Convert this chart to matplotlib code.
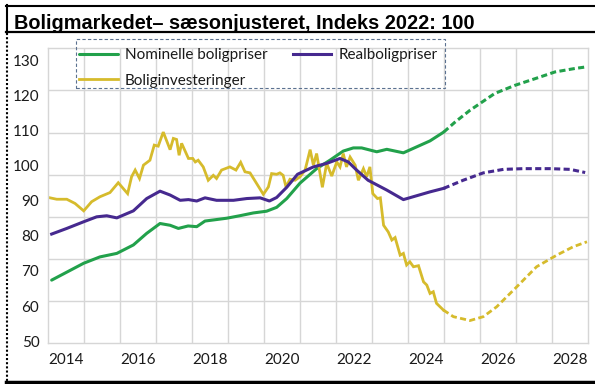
import matplotlib
matplotlib.use('Agg')
import matplotlib.pyplot as plt
import numpy as np
from matplotlib.lines import Line2D
from matplotlib.patches import Rectangle

# Nominelle boligpriser (faktisk)
nom_x = [2014.11, 2015.0, 2015.45, 2015.92, 2016.38, 2016.75, 2017.12, 2017.4, 2017.63, 2017.9,
         2018.14, 2018.37, 2018.97, 2019.33, 2019.71, 2020.08, 2020.36, 2020.64, 2021.01, 2021.47,
         2021.84, 2022.21, 2022.49, 2022.72, 2023.14, 2023.42, 2023.88, 2024.25, 2024.62, 2025.0]
nom_y = [67.4, 72.2, 74.0, 75.0, 77.4, 80.7, 83.5, 83.0, 82.1, 82.8,
         82.6, 84.2, 85.0, 85.7, 86.5, 87.0, 88.1, 90.6, 95.0, 99.1,
         101.5, 104.1, 105.0, 105.0, 103.9, 104.6, 103.6, 105.3, 107.0, 109.5]
# Nominelle boligpriser (prognose)
nom_fx = [2025.0, 2025.31, 2025.73, 2026.42, 2026.98, 2027.54, 2028.09, 2028.65, 2028.93]
nom_fy = [109.5, 112.3, 115.7, 120.5, 122.8, 124.7, 126.6, 127.6, 128.0]

# Realboligpriser
real_x = [2014.11, 2014.53, 2015.0, 2015.36, 2015.64, 2015.92, 2016.38, 2016.75, 2017.12, 2017.4,
          2017.68, 2017.91, 2018.14, 2018.37, 2018.69, 2019.16, 2019.53, 2019.9, 2020.16, 2020.36,
          2020.64, 2020.94, 2021.38, 2021.75, 2022.12, 2022.35, 2022.58, 2022.9, 2023.42, 2023.88,
          2024.25, 2024.62, 2025.0]
real_y = [80.5, 82.1, 84.0, 85.4, 85.7, 85.1, 87.1, 90.6, 92.7, 91.6,
          90.1, 90.3, 89.9, 90.8, 90.1, 90.1, 90.6, 90.8, 89.9, 90.9,
          93.8, 97.5, 99.6, 100.6, 102.0, 101.0, 98.7, 95.8, 93.0, 90.3,
          91.4, 92.5, 93.5]
real_fx = [2025.0, 2025.54, 2026.1, 2026.66, 2027.21, 2027.95, 2028.51, 2028.93]
real_fy = [93.5, 95.8, 97.9, 98.9, 99.1, 99.1, 98.9, 98.0]

# Boliginvesteringer
inv_x = [2014.02, 2014.25, 2014.53, 2014.76, 2015.0, 2015.22, 2015.45, 2015.73, 2015.96, 2016.22,
         2016.33, 2016.43, 2016.55, 2016.66, 2016.84, 2016.96, 2017.07, 2017.21, 2017.4, 2017.49,
         2017.58, 2017.65, 2017.72, 2017.91, 2018.03, 2018.1, 2018.18, 2018.32, 2018.46, 2018.6,
         2018.69, 2018.83, 2019.06, 2019.23, 2019.36, 2019.48, 2019.62, 2019.99, 2020.13, 2020.22,
         2020.36, 2020.45, 2020.54, 2020.62, 2020.73, 2020.87, 2021.01, 2021.15, 2021.29, 2021.38,
         2021.47, 2021.63, 2021.75, 2021.89, 2022.03, 2022.12, 2022.21, 2022.3, 2022.4, 2022.54,
         2022.63, 2022.77, 2022.86, 2022.95, 2023.03, 2023.16, 2023.24, 2023.33, 2023.46, 2023.56,
         2023.65, 2023.79, 2023.88, 2023.97, 2024.06, 2024.16, 2024.3, 2024.44, 2024.53, 2024.62,
         2024.71, 2024.8, 2024.99]
inv_y = [90.9, 90.4, 90.4, 89.2, 87.1, 89.7, 91.1, 92.3, 95.1, 92.0,
         96.8, 98.7, 96.3, 100.1, 101.5, 105.8, 105.5, 109.5, 104.5, 107.7,
         107.4, 102.9, 106.3, 102.0, 102.0, 101.0, 101.5, 99.6, 95.8, 97.2,
         96.3, 98.7, 99.6, 98.7, 100.9, 98.2, 97.9, 91.8, 93.9, 97.7,
         97.5, 97.9, 97.2, 93.9, 96.1, 95.8, 96.8, 98.7, 104.5, 100.1,
         103.4, 93.8, 100.6, 97.0, 101.0, 99.6, 103.4, 99.6, 102.4, 100.1,
         95.8, 99.1, 96.8, 99.6, 92.0, 90.6, 90.8, 83.0, 81.1, 78.8,
         79.5, 74.5, 75.0, 71.7, 72.6, 71.2, 71.5, 66.9, 66.0, 63.6,
         64.1, 60.8, 58.9]
inv_fx = [2024.99, 2025.27, 2025.73, 2026.1, 2026.47, 2027.03, 2027.58, 2028.14, 2028.6, 2028.98]
inv_fy = [58.9, 57.0, 55.9, 57.0, 59.8, 65.5, 71.2, 74.5, 76.9, 78.3]

year_labels = ['2014', '2016', '2018', '2020', '2022', '2024', '2026', '2028']
y_labels = [50, 60, 70, 80, 90, 100, 110, 120, 130]

GREEN = '#22a14b'
PURPLE = '#46298f'
YELLOW = '#d6bb2c'
GRID = '#d6d6d6'
W, H = 595, 384

fig = plt.figure(figsize=(W / 100, H / 100), dpi=100)
ax = fig.add_axes([47.7 / W, 1 - 343.3 / H, 540 / W, 295 / H])

ax.plot(nom_x, nom_y, color=GREEN, lw=2.2, label='Nominelle boligpriser', solid_capstyle='round')
ax.plot(nom_fx, nom_fy, color=GREEN, lw=2.2, ls=(0, (2, 1.1)), label='_nolegend_')
ax.plot(inv_x, inv_y, color=YELLOW, lw=2.0, label='Boliginvesteringer', solid_joinstyle='miter')
ax.plot(inv_fx, inv_fy, color=YELLOW, lw=2.0, ls=(0, (2.2, 1.2)), label='_nolegend_')
ax.plot(real_x, real_y, color=PURPLE, lw=2.2, label='Realboligpriser')
ax.plot(real_fx, real_fy, color=PURPLE, lw=2.2, ls=(0, (2, 1.1)), label='_nolegend_')

ylo, yhi = 49.43, 133.33
ax.set_xlim(2014, 2029)
ax.set_ylim(ylo, yhi)
ax.set_xticks([int(s) + 0.5 for s in year_labels])
ax.set_xticklabels(year_labels)
ax.set_xticks(np.arange(2015, 2029), minor=True)
ax.set_yticks(y_labels)
ax.set_yticks(np.linspace(ylo, yhi, 8)[1:-1], minor=True)
ax.grid(which='minor', color=GRID, lw=1.0)
ax.grid(which='major', visible=False)
ax.set_axisbelow(True)
ax.tick_params(which='both', length=0)
ax.tick_params(axis='y', pad=6, labelsize=11, labelcolor='#1a1a1a')
ax.tick_params(axis='x', pad=7, labelsize=11, labelcolor='#1a1a1a')
for lab in ax.get_xticklabels() + ax.get_yticklabels():
    lab.set_family('Lato')
for sp in ax.spines.values():
    sp.set_color(GRID)
    sp.set_linewidth(1.0)

handles, labels = ax.get_legend_handles_labels()
leg = fig.legend(handles, labels, loc='upper left', bbox_to_anchor=(78.7 / W, 1 - 48.5 / H),
                 ncol=2, frameon=False, borderpad=0, borderaxespad=0,
                 prop={'family': 'Lato', 'size': 11}, handlelength=2.55, handletextpad=0.46,
                 columnspacing=1.65, labelspacing=0.73)
for t in leg.get_texts():
    t.set_color('#1a1a1a')
fig.add_artist(Rectangle((76 / W, 1 - 88.3 / H), 369 / W, 49 / H, transform=fig.transFigure,
                         fill=False, ec='#5b7190', lw=0.8, ls=(0, (3, 2))))

# titel og ramme
fig.text(14 / W, 1 - 29.3 / H, 'Boligmarkedet\u2013 sæsonjusteret, Indeks 2022: 100',
         family='Liberation Sans', weight='bold', fontsize=14.3, va='baseline', color='black')
for (x0, y0, x1, y1, lw, ls) in [(6, 5.7, 595, 5.7, 1.5, '-'), (6, 32.3, 595, 32.3, 1.6, '-'),
                                 (7, 5, 7, 33, 1.5, '-'), (7, 33, 7, 381, 1.5, (0, (1, 1))),
                                 (6, 381.5, 595, 381.5, 2.5, '-')]:
    fig.add_artist(Line2D([x0 / W, x1 / W], [1 - y0 / H, 1 - y1 / H], transform=fig.transFigure,
                          color='black', lw=lw, ls=ls))

fig.savefig('out.png', dpi=100)
